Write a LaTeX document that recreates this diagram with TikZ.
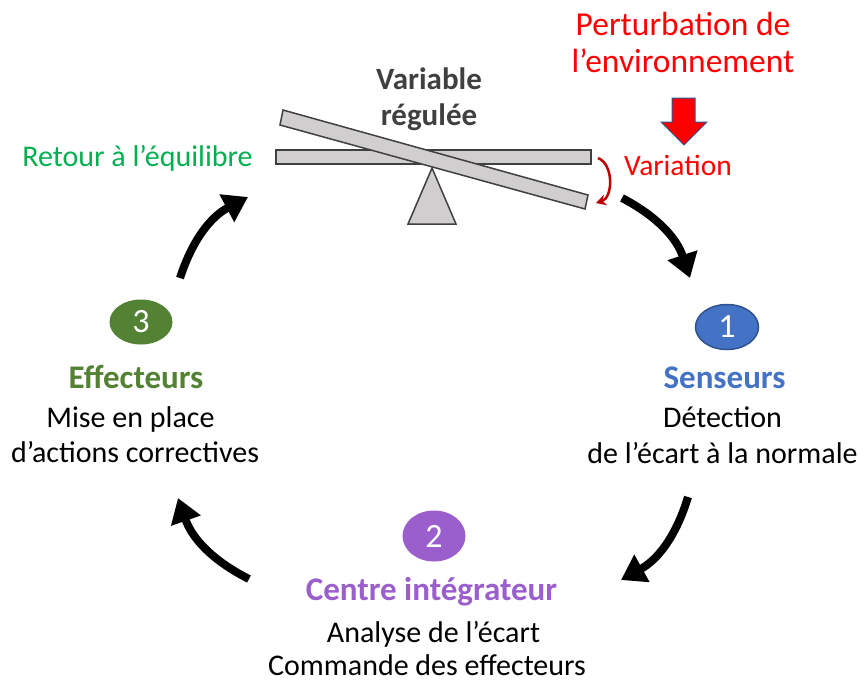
\documentclass[tikz,border=0pt]{standalone}
\usepackage{fontspec}
\setmainfont{Carlito}
\usetikzlibrary{positioning,arrows.meta,shapes.geometric}

\definecolor{senscol}{HTML}{4472C4}
\definecolor{senedge}{HTML}{2F528F}
\definecolor{integcol}{HTML}{9A5ECD}
\definecolor{effeccol}{HTML}{548235}
\definecolor{retourcol}{HTML}{00B050}
\definecolor{varcol}{HTML}{404040}
\definecolor{beamgray}{HTML}{D0CECE}
\definecolor{darkred}{HTML}{C00000}
\definecolor{pertedge}{HTML}{2F5597}

\tikzset{
	num/.style={ellipse, minimum width=63pt, minimum height=45pt, inner sep=0pt, text=white, font=\fontsize{34}{40}\selectfont},
	txt/.style={anchor=base, inner sep=0pt, font=\fontsize{30}{36}\selectfont},
	ttl/.style={anchor=base, inner sep=0pt, font=\fontsize{33}{40}\selectfont\bfseries},
	beam/.style={draw=varcol, line width=1.5pt, fill=beamgray},
	cyclearrow/.style={line width=8pt, -{Triangle[length=24pt,width=30pt]}, bend left=22},
}

\begin{document}
\begin{tikzpicture}[x=1pt, y=-1pt]
	\useasboundingbox (0,0) rectangle (864,681);
	
	% PERTURBATION
	\node [txt, red, font=\fontsize{33.5}{40}\selectfont] at (683,35) (pert) {Perturbation de};
	\node [txt, red, font=\fontsize{33.5}{40}\selectfont] at (683,72) (env) {l’environnement};
	\draw [fill=red, draw=pertedge, line width=1pt] (672,98) -- (695,98) -- (695,122) -- (707,122) -- (684,145) -- (661,122) -- (672,122) -- cycle;
	\node [txt, red, font=\fontsize{29.5}{36}\selectfont] at (678,175) (variation) {Variation};
	
	% Seesaw
	\node [ttl, varcol, font=\fontsize{31}{38}\selectfont\bfseries] at (429,89) (var) {Variable};
	\node [ttl, varcol, font=\fontsize{31}{38}\selectfont\bfseries] at (429,125) (reg) {régulée};
	\draw [beam] (276,150) rectangle (591,164);
	\draw [beam] (283,110) -- (588,195) -- (585,209) -- (280,125) -- cycle;
	\draw [beam] (432,168) -- (456,224) -- (408,224) -- cycle;
	\coordinate (tiltA) at (598,158);
	\coordinate (tiltB) at (596,203);
	\draw [darkred, line width=2.5pt, -{Stealth[length=10pt,width=11pt]}] (tiltA) to[bend left=70] (tiltB);
	
	\node [txt, retourcol] at (137.5,166) (retour) {Retour à l’équilibre};
	
	% SENSEURS
	\node [num, fill=senscol, draw=senedge, line width=1.5pt] at (727,327) (c1) {1};
	\node [ttl, senscol] at (724.5,388) (sens) {Senseurs};
	\node [txt] at (722.5,427) (sensA) {Détection};
	\node [txt] at (722.5,463) (sensB) {de l’écart à la normale};
	
	% CENTRE INTEGRATEUR
	\node [num, fill=integcol, minimum height=51pt] at (434,536) (c2) {2};
	\node [ttl, integcol] at (431.5,600) (integ) {Centre intégrateur};
	\node [txt] at (433.5,642) (integA) {Analyse de l’écart};
	\node [txt] at (427,675) (integB) {Commande des effecteurs};
	
	% EFFECTEURS
	\node [num, fill=effeccol] at (141,322) (c3) {3};
	\node [ttl, effeccol] at (136,388) (effec) {Effecteurs};
	\node [txt] at (130.5,427) (effecA) {Mise en place};
	\node [txt] at (135,462) (effecB) {d’actions correctives};
	
	% Cycle arrows
	\coordinate (trA) at (622,198);
	\coordinate (trB) at (690,278);
	\coordinate (brA) at (688,497);
	\coordinate (brB) at (621,580);
	\coordinate (blA) at (249,579);
	\coordinate (blB) at (178,498);
	\coordinate (tlA) at (180,278);
	\coordinate (tlB) at (248,197);
	\draw [cyclearrow] (trA) to (trB);
	\draw [cyclearrow] (brA) to (brB);
	\draw [cyclearrow] (blA) to (blB);
	\draw [cyclearrow] (tlA) to (tlB);
	
\end{tikzpicture}
\end{document}
